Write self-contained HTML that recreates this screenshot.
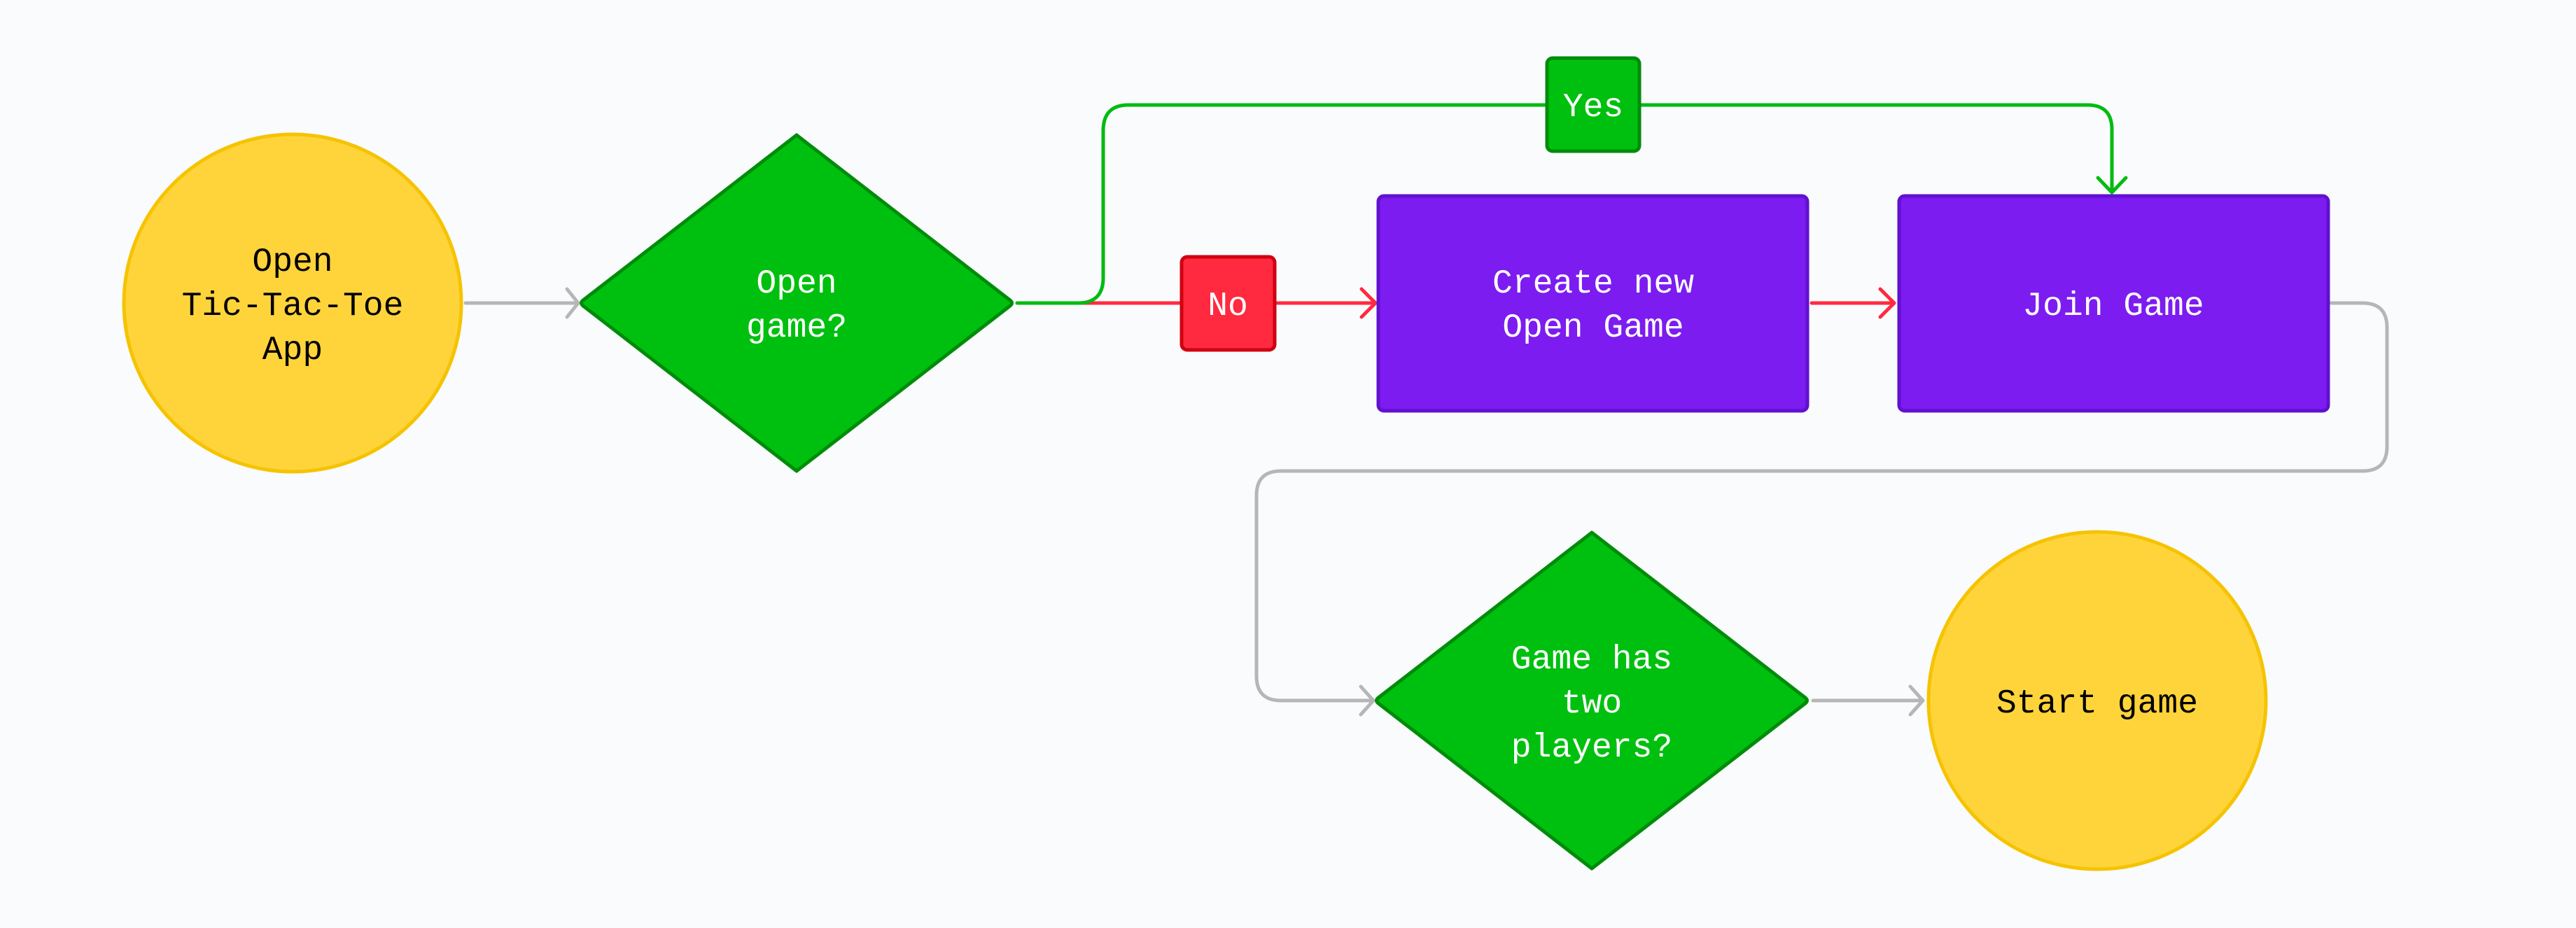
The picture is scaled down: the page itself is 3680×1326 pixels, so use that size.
<!DOCTYPE html>
<html><head><meta charset="utf-8"><style>
html,body{margin:0;padding:0;background:#f9fbfd;}
svg{display:block;}
text{font-family:"Liberation Mono",monospace;font-size:48px;text-anchor:middle;}
</style></head><body>
<svg width="3680" height="1326" viewBox="0 0 3680 1326" xmlns="http://www.w3.org/2000/svg">
<rect width="3680" height="1326" fill="#f9fbfd"/>
<g fill="none" stroke-width="5" stroke-linecap="round" stroke-linejoin="round">
<!-- gray connectors -->
<path d="M665 433 H824" stroke="#b6b6b6"/>
<path d="M810 413 L826 433 L810 453" stroke="#b6b6b6"/>
<path d="M3330 433 H3375 Q3410 433 3410 468 V638 Q3410 673 3375 673 H1830 Q1795 673 1795 708 V966 Q1795 1001 1830 1001 H1960" stroke="#b6b6b6"/>
<path d="M1944 981 L1962 1001 L1944 1021" stroke="#b6b6b6"/>
<path d="M2590 1001 H2745" stroke="#b6b6b6"/>
<path d="M2729 981 L2747 1001 L2729 1021" stroke="#b6b6b6"/>
<!-- red -->
<path d="M1537 433 H1963" stroke="#ff2a3f"/>
<path d="M1945 413 L1965 433 L1945 453" stroke="#ff2a3f"/>
<path d="M2588 433 H2704" stroke="#ff2a3f"/>
<path d="M2686 413 L2706 433 L2686 453" stroke="#ff2a3f"/>
<!-- green -->
<path d="M1453 433 H1540 Q1576 433 1576 397 V187 Q1576 150 1612 150 H2982 Q3017 150 3017 185 V272" stroke="#00bb10"/>
<path d="M2997 254 L3017 275 L3037 254" stroke="#00bb10"/>
</g>
<!-- nodes -->
<circle cx="418" cy="433" r="241" fill="#ffd43b" stroke="#f6c300" stroke-width="5"/>
<circle cx="2996" cy="1001" r="241" fill="#ffd43b" stroke="#f6c300" stroke-width="5"/>
<path d="M1138 193 L1443 429 Q1448 433 1443 437 L1138 673 L833 437 Q828 433 833 429 Z" fill="#00c00f" stroke="#008c0a" stroke-width="5" stroke-linejoin="round"/>
<path d="M2274 761 L2579 997 Q2584 1001 2579 1005 L2274 1241 L1969 1005 Q1964 1001 1969 997 Z" fill="#00c00f" stroke="#008c0a" stroke-width="5" stroke-linejoin="round"/>
<rect x="1969" y="280" width="613" height="307" rx="8" fill="#7c1cf0" stroke="#6110d0" stroke-width="5"/>
<rect x="2713" y="280" width="613" height="307" rx="8" fill="#7c1cf0" stroke="#6110d0" stroke-width="5"/>
<rect x="1688" y="367" width="133" height="133" rx="8" fill="#ff2a3f" stroke="#d00010" stroke-width="5"/>
<rect x="2210" y="83" width="132" height="133" rx="8" fill="#00c00f" stroke="#008c0a" stroke-width="5"/>
<!-- labels -->
<text x="418" y="387" fill="#000">Open</text>
<text x="418" y="450" fill="#000">Tic-Tac-Toe</text>
<text x="418" y="513" fill="#000">App</text>
<text x="1138" y="418" fill="#fff">Open</text>
<text x="1138" y="481" fill="#fff">game?</text>
<text x="2276" y="418" fill="#fff">Create new</text>
<text x="2276" y="481" fill="#fff">Open Game</text>
<text x="3019" y="450" fill="#fff">Join Game</text>
<text x="1754" y="450" fill="#fff">No</text>
<text x="2276" y="166" fill="#fff">Yes</text>
<text x="2274" y="955" fill="#fff">Game has</text>
<text x="2274" y="1018" fill="#fff">two</text>
<text x="2274" y="1081" fill="#fff">players?</text>
<text x="2996" y="1018" fill="#000">Start game</text>
</svg>
</body></html>
